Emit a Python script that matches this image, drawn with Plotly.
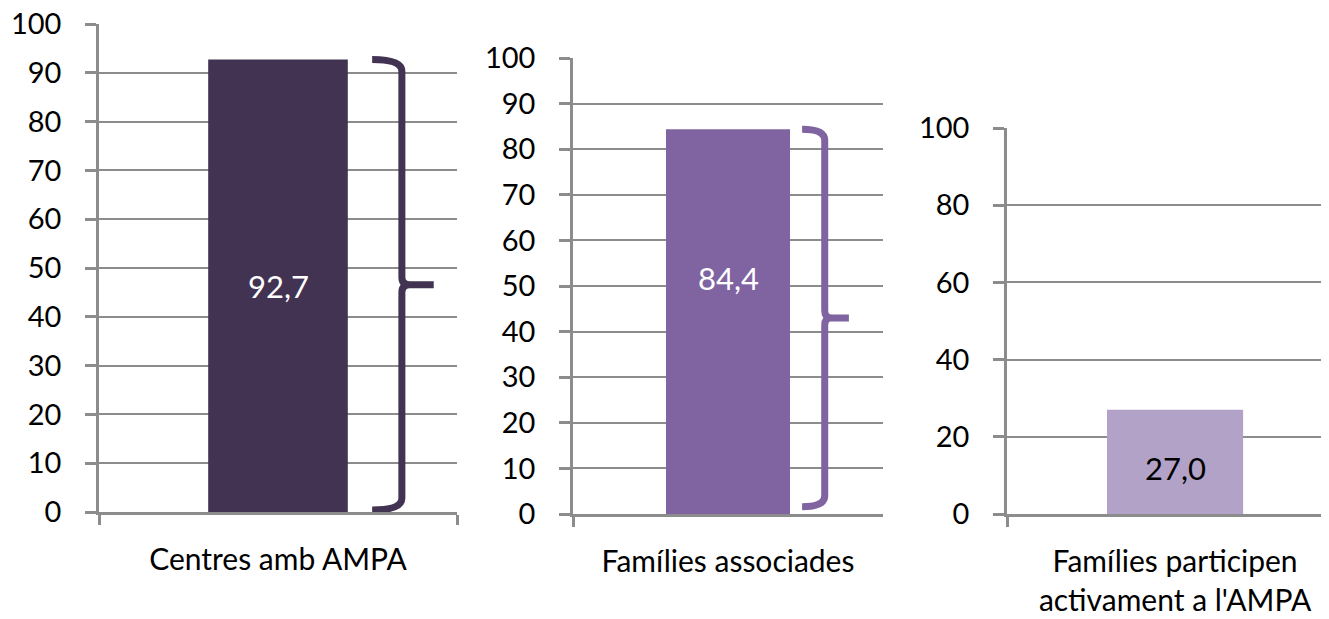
import plotly.graph_objects as go

# ---- data ----
categories = ["Centres amb AMPA", "Famílies associades", "Famílies participen<br>activament a l'AMPA"]
values = [92.7, 84.4, 27.0]
yticks_a = [0, 10, 20, 30, 40, 50, 60, 70, 80, 90, 100]
yticks_b = [0, 10, 20, 30, 40, 50, 60, 70, 80, 90, 100]
yticks_c = [0, 20, 40, 60, 80, 100]

# ---- style ----
W, H = 1329, 619
OFF = 8  # page body margin offset
colors = ["#433352", "#8064A2", "#B3A2C7"]
text_colors = ["#FFFFFF", "#FFFFFF", "#000000"]


def xd(a, b):
    return ((a - OFF) / W, (b - OFF) / W)


def yd(bot, top):
    return (1 - (bot - OFF) / H, 1 - (top - OFF) / H)


x_dom = [xd(99, 457), xd(573, 883), xd(1007, 1329)]
y_dom = [yd(512, 24), yd(514, 58), yd(514, 128)]
x_ranges = [[-0.5, 0.5], [-0.5, 0.5], [-0.5, 0.458]]
bar_widths = [0.39, 0.40, 0.405]
label_frac = [0.5, 0.613, 0.44]
yticks = [yticks_a, yticks_b, yticks_c]
grid = "#8C8C8C"
FONT = "Lato"
FS_TICK = 29
FS_CAT = 30
FS_VAL = 31

# braces: x positions in axis-domain fraction (hook start, spine, tip), bottom pad, corner radius (data units)
braces = [
    dict(xs=0.763, xv=0.846, xt=0.935, bottom=0.4, r=2.4, rm=1.6, color=colors[0]),
    dict(xs=0.739, xv=0.812, xt=0.890, bottom=1.6, r=2.4, rm=1.6, color=colors[1]),
    None,
]

fig = go.Figure()
shapes = []
annotations = []
for i in range(3):
    sfx = "" if i == 0 else str(i + 1)
    fig.add_trace(go.Bar(
        x=[categories[i]], y=[values[i]], width=bar_widths[i],
        marker=dict(color=colors[i], line=dict(width=0)),
        xaxis="x" + sfx, yaxis="y" + sfx, showlegend=False, hoverinfo="skip",
        cliponaxis=False,
    ))
    annotations.append(dict(
        x=categories[i], y=values[i] * label_frac[i], xref="x" + sfx, yref="y" + sfx,
        text=f"{values[i]:.1f}".replace(".", ","), showarrow=False,
        font=dict(family=FONT, size=FS_VAL, color=text_colors[i]),
    ))
    fig.layout["xaxis" + sfx] = dict(
        domain=list(x_dom[i]), anchor="y" + sfx, type="category", range=x_ranges[i],
        tickson="boundaries", ticks="outside", ticklen=10, tickwidth=2.5, tickcolor=grid,
        showline=True, linecolor=grid, linewidth=2.5, showgrid=False,
        tickfont=dict(family=FONT, size=FS_CAT, color="#000000"),
        ticklabelstandoff=19, ticklabeloverflow="allow", automargin=False, fixedrange=True,
    )
    fig.layout["yaxis" + sfx] = dict(
        domain=list(y_dom[i]), anchor="x" + sfx, range=[0, 100],
        tickvals=yticks[i], ticks="outside", ticklen=11, tickwidth=2.5, tickcolor=grid,
        showline=True, linecolor=grid, linewidth=2.5, showgrid=True, gridcolor=grid,
        gridwidth=2, zeroline=False,
        tickfont=dict(family=FONT, size=FS_TICK, color="#000000"),
        ticklabelstandoff=18, ticklabeloverflow="allow", automargin=False, fixedrange=True,
    )
    b = braces[i]
    if b:
        top = values[i]
        bot = b["bottom"]
        mid = (top + bot) / 2
        r, rm = b["r"], b["rm"]
        xs, xv, xt = b["xs"], b["xv"], b["xt"]
        dxm = (xt - xv) * 0.25
        path = (
            f"M {xs},{top} Q {xv},{top} {xv},{top - r} "
            f"L {xv},{mid + rm} Q {xv},{mid} {xv + dxm},{mid} L {xt},{mid} "
            f"M {xv + dxm},{mid} Q {xv},{mid} {xv},{mid - rm} "
            f"L {xv},{bot + r} Q {xv},{bot} {xs},{bot}"
        )
        shapes.append(dict(
            type="path", path=path, xref="x" + sfx + " domain", yref="y" + sfx,
            line=dict(color=b["color"], width=7), fillcolor="rgba(0,0,0,0)", layer="above",
        ))

fig.update_layout(
    width=W, height=H, margin=dict(l=0, r=0, t=0, b=0),
    paper_bgcolor="white", plot_bgcolor="white",
    shapes=shapes, annotations=annotations, showlegend=False,
    font=dict(family=FONT, size=FS_TICK, color="#000000"),
)
fig.write_html("out.html")
